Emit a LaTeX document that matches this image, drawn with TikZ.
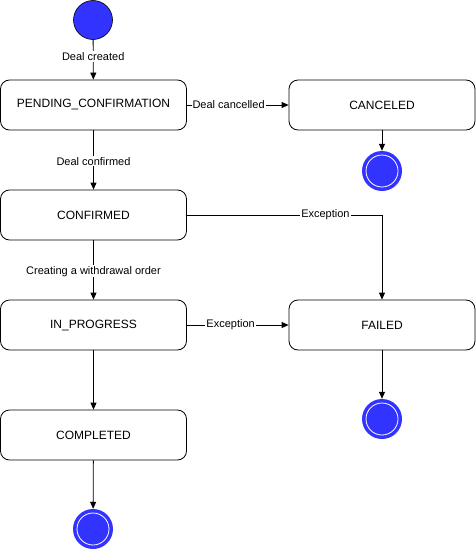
\documentclass[tikz,border=0pt]{standalone}
\usepackage{fontspec}
\setmainfont{Liberation Sans}
\usetikzlibrary{arrows.meta}
\definecolor{stblue}{HTML}{3333FF}
\tikzset{
  x=1pt, y=-1pt,
  state/.style={draw=black, line width=0.8pt, rounded corners=9pt, minimum width=186pt, minimum height=50pt, inner sep=0pt, font=\fontsize{12}{14}\selectfont, fill=white},
  startst/.style={circle, draw=black, line width=0.6pt, fill=stblue, minimum size=39pt, inner sep=0pt},
  endst/.style={circle, fill=stblue, minimum size=40pt, inner sep=0pt},
  ring/.style={circle, draw=white, line width=0.8pt, minimum size=32pt, inner sep=0pt},
  conn/.style={draw=black, line width=0.8pt, -{Triangle[length=7pt,width=6pt]}},
  lbl/.style={fill=white, inner sep=1pt, font=\fontsize{11}{13}\selectfont},
}
\begin{document}
\begin{tikzpicture}
\useasboundingbox (0,0) rectangle (476,549);
\node[startst] (s) at (93,20) {};
\node[state] (pend) at (93.5,105) {PENDING\_CONFIRMATION};
\node[state] (canc) at (382,105) {CANCELED};
\node[state] (conf) at (93.5,215) {CONFIRMED};
\node[state] (prog) at (93.5,325) {IN\_PROGRESS};
\node[state] (fail) at (382,325) {FAILED};
\node[state] (comp) at (93.5,435) {COMPLETED};
\node[endst] (e1) at (382,171) {};
\node[ring] at (e1) {};
\node[endst] (e2) at (382,419) {};
\node[ring] at (e2) {};
\node[endst] (e3) at (93,529) {};
\node[ring] at (e3) {};

\draw[conn] (s) -- node[lbl, pos=0.42] {Deal created} (pend);
\draw[conn] (pend) -- node[lbl, pos=0.52] {Deal confirmed} (conf);
\draw[conn] (conf) -- node[lbl, pos=0.52] {Creating a withdrawal order} (prog);
\draw[conn] (prog) -- (comp);
\draw[conn] (comp) -- (e3);
\draw[conn] (pend) -- node[lbl, pos=0.41] {Deal cancelled} (canc);
\draw[conn] (canc) -- (e1);
\draw[conn] (prog) -- node[lbl, pos=0.43] {Exception} (fail);
\draw[conn] (fail) -- (e2);
\draw[conn] (conf.east) -| node[lbl, pos=0.355] {Exception} (fail.north);
\end{tikzpicture}
\end{document}
